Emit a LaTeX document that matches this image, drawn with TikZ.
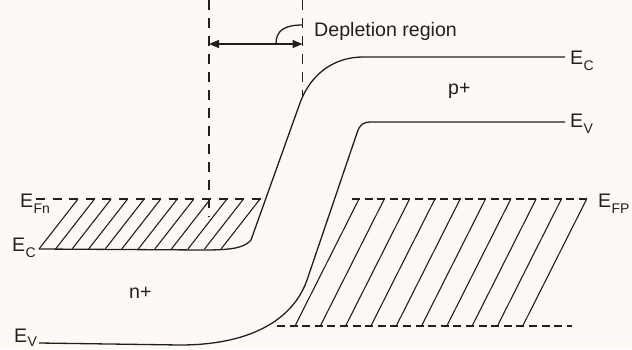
\documentclass[tikz,border=0pt]{standalone}
\usepackage{fontspec}
\setmainfont{Liberation Sans}
\usetikzlibrary{arrows.meta}
\definecolor{bg}{RGB}{253,250,246}
\definecolor{ink}{RGB}{35,31,32}
\newcommand{\esub}[2][-6.5pt]{E\kern0.3pt\raisebox{#1}{\fontsize{14}{14}\selectfont #2}}
\begin{document}
\begin{tikzpicture}[x=1pt,y=-1pt,
  band/.style={draw=ink, line width=1.3pt},
  vdash/.style={draw=ink, line width=1.3pt, dash pattern=on 10pt off 8pt},
  hdashn/.style={draw=ink, line width=1.3pt, dash pattern=on 9pt off 7.6pt},
  hdashp/.style={draw=ink, line width=1.3pt, dash pattern=on 8pt off 4.6pt},
  hatch/.style={draw=ink, line width=1.1pt},
  dim/.style={draw=ink, line width=1.3pt, {Triangle[length=10pt,width=8pt]}-{Triangle[length=10pt,width=8pt]}},
  lbl/.style={anchor=base west, inner sep=0pt, text=ink, font=\fontsize{19.6}{23}\selectfont}]
\path[use as bounding box, fill=bg] (0,0) rectangle (632,349);

% band edges
\coordinate (ecL) at (39,249);
\coordinate (ecR) at (565,57);
\coordinate (evL) at (39,343);
\coordinate (evR) at (565,122);
\draw[band] (ecL) -- (205,250) .. controls (235,250) and (245,247) .. (251,240)
  -- (300,103) .. controls (311,73) and (335,57) .. (363,57) -- (ecR);
\draw[band] (evL) -- (180,345) .. controls (250,345) and (293,320) .. (307,280)
  -- (357,133) .. controls (360,124) and (363,122) .. (372,122) -- (evR);

% depletion boundaries
\coordinate (dl1) at (209,0);
\coordinate (dl2) at (209,217);
\coordinate (dr1) at (302.5,0);
\coordinate (dr2) at (302.5,97);
\draw[vdash] (dl1) -- (dl2);
\draw[vdash] (dr1) -- (dr2);
\coordinate (al) at (209,44);
\coordinate (ar) at (302.5,44);
\draw[dim] (al) -- (ar);
\coordinate (ls) at (276,44);
\coordinate (le) at (302.5,25);
\draw[band] (ls) .. controls (276,30) and (285,25) .. (le);

% Fermi levels
\coordinate (fnL) at (36,199);
\coordinate (fnR) at (265.5,199);
\coordinate (fpL) at (352,199);
\coordinate (fpR) at (587,199);
\coordinate (fbL) at (277,326);
\coordinate (fbR) at (572,326);
\draw[hdashn] (fnL) -- (fnR);
\draw[hdashp] (fpL) -- (fpR);
\draw[hdashp] (fbL) -- (fbR);

% hatching
\foreach \k in {0,...,11}
  \draw[hatch] ({39+16.55*\k},249) -- ({78+16.55*\k},199);
\foreach \k in {0,...,9}
  \draw[hatch] ({295+25.3*\k},326) -- ({359+25.3*\k},199);

% labels
\node[lbl] (tEFn) at (20,207) {\esub{Fn}};
\node[lbl] (tECl) at (12,251) {\esub{C}};
\node[lbl] (tEVl) at (14,342) {\esub[-4.5pt]{V}};
\node[lbl] (tECr) at (570,64) {\esub{C}};
\node[lbl] (tEVr) at (570,127) {\esub{V}};
\node[lbl] (tEFP) at (598,207) {\esub{FP}};
\node[lbl] (tdep) at (314,36) {Depletion region};
\node[lbl] (tn) at (129,298) {n+};
\node[lbl] (tp) at (448,94) {p+};
\end{tikzpicture}
\end{document}
